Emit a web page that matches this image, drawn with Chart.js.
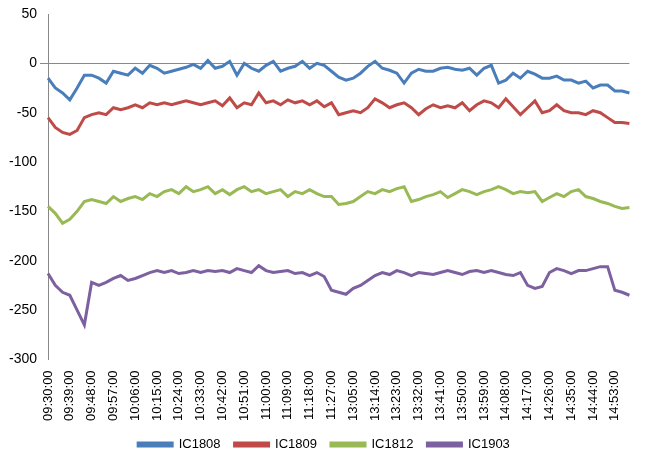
<!DOCTYPE html>
<html>
<head>
<meta charset="utf-8">
<script src="https://cdn.jsdelivr.net/npm/chart.js@4.4.0/dist/chart.umd.min.js"></script>
<style>
  body { margin: 0; background: #fff; }
  #wrap { width: 648px; height: 461px; }
</style>
</head>
<body>
<div id="wrap"><canvas id="c"></canvas></div>
<script>
// 3-minute samples, morning 09:30-11:30, afternoon 13:02-14:59
var seriesNames = ['IC1808', 'IC1809', 'IC1812', 'IC1903'];
var ic1808 = [-15,-25,-30,-37,-25,-12,-12,-15,-20,-8,-10,-12,-5,-10,-2,-5,-10,-8,-6,-4,
  -1,-5,3,-5,-3,2,-12,0,-5,-8,-2,2,-8,-5,-3,2,-5,0,-2,-8,
  -14,-17,-15,-10,-3,2,-5,-7,-10,-20,-10,-6,-8,-8,-5,-4,-6,-7,-5,-12,
  -5,-2,-20,-17,-10,-15,-8,-11,-15,-15,-13,-17,-17,-20,-18,-25,-22,-22,-28,-28,-30];
var ic1809 = [-55,-65,-70,-72,-68,-55,-52,-50,-52,-45,-47,-45,-42,-45,-40,-42,-40,-42,-40,-38,
  -40,-42,-40,-38,-43,-35,-45,-40,-42,-30,-40,-38,-42,-37,-40,-38,-42,-38,-44,-40,
  -52,-50,-48,-50,-45,-36,-40,-45,-42,-40,-45,-52,-46,-42,-45,-43,-45,-40,-48,-42,
  -38,-40,-45,-36,-44,-52,-45,-38,-50,-48,-42,-48,-50,-50,-52,-48,-50,-55,-60,-60,-61];
var ic1812 = [-145,-152,-162,-158,-150,-140,-138,-140,-142,-135,-140,-137,-135,-138,-132,-135,-130,-128,-132,-125,
  -130,-128,-125,-132,-128,-133,-128,-125,-130,-128,-132,-130,-128,-135,-130,-132,-128,-132,-135,-135,
  -143,-142,-140,-135,-130,-132,-128,-130,-127,-125,-140,-138,-135,-133,-130,-136,-132,-128,-130,-133,
  -130,-128,-125,-128,-132,-130,-131,-130,-140,-136,-132,-135,-130,-128,-135,-137,-140,-142,-145,-147,-146];
var ic1903 = [-213,-225,-232,-235,-250,-265,-222,-225,-222,-218,-215,-220,-218,-215,-212,-210,-212,-210,-213,-212,
  -210,-212,-210,-211,-210,-212,-208,-210,-212,-205,-210,-212,-211,-210,-213,-212,-215,-212,-216,-230,
  -232,-234,-228,-225,-220,-215,-212,-214,-210,-212,-215,-212,-213,-214,-212,-210,-212,-214,-211,-210,
  -212,-210,-212,-214,-215,-212,-225,-228,-226,-212,-208,-210,-213,-210,-210,-208,-206,-206,-230,-232,-235];
var colors = ['#4a7ebb', '#be4b48', '#98b954', '#7d60a0'];

// time labels: minute index 0..120 = 09:30..11:30, 121.. = 13:00..
function timeLabel(m) {
  var t = m <= 120 ? 570 + m : 780 + (m - 121);
  var h = Math.floor(t / 60), mm = t % 60;
  return (h < 10 ? '0' : '') + h + ':' + (mm < 10 ? '0' : '') + mm + ':00';
}
var labels = [];
for (var m = 0; m <= 240; m += 3) labels.push(timeLabel(m));

var allData = [ic1808, ic1809, ic1812, ic1903];
var datasets = seriesNames.map(function (n, i) {
  return { label: n, data: allData[i], borderColor: colors[i], backgroundColor: colors[i],
    borderWidth: 3, pointRadius: 0, tension: 0 };
});

new Chart(document.getElementById('c'), {
  type: 'line',
  data: { labels: labels, datasets: datasets },
  options: {
    responsive: true, maintainAspectRatio: false, animation: false,
    layout: { padding: { left: 6, right: 6, top: 14, bottom: 0 } },
    plugins: {
      legend: { position: 'bottom',
        labels: { boxWidth: 34, boxHeight: 3, color: '#000', font: { family: 'Liberation Sans', size: 13 }, padding: 14 } },
      tooltip: { enabled: false }
    },
    scales: {
      x: {
        grid: { display: false }, border: { display: false },
        ticks: { autoSkip: false, minRotation: 90, maxRotation: 90, color: '#000',
          font: { family: 'Liberation Sans', size: 13 },
          callback: function (v, i) { return i % 3 === 0 ? labels[i] : ''; } }
      },
      y: {
        min: -300, max: 50,
        ticks: { stepSize: 50, color: '#000', font: { family: 'Liberation Sans', size: 14 } },
        border: { color: '#888' },
        grid: { drawTicks: true, color: function (ctx) { return ctx.tick && ctx.tick.value === 0 ? '#888' : 'rgba(0,0,0,0)'; } }
      }
    }
  }
});
</script>
</body>
</html>
